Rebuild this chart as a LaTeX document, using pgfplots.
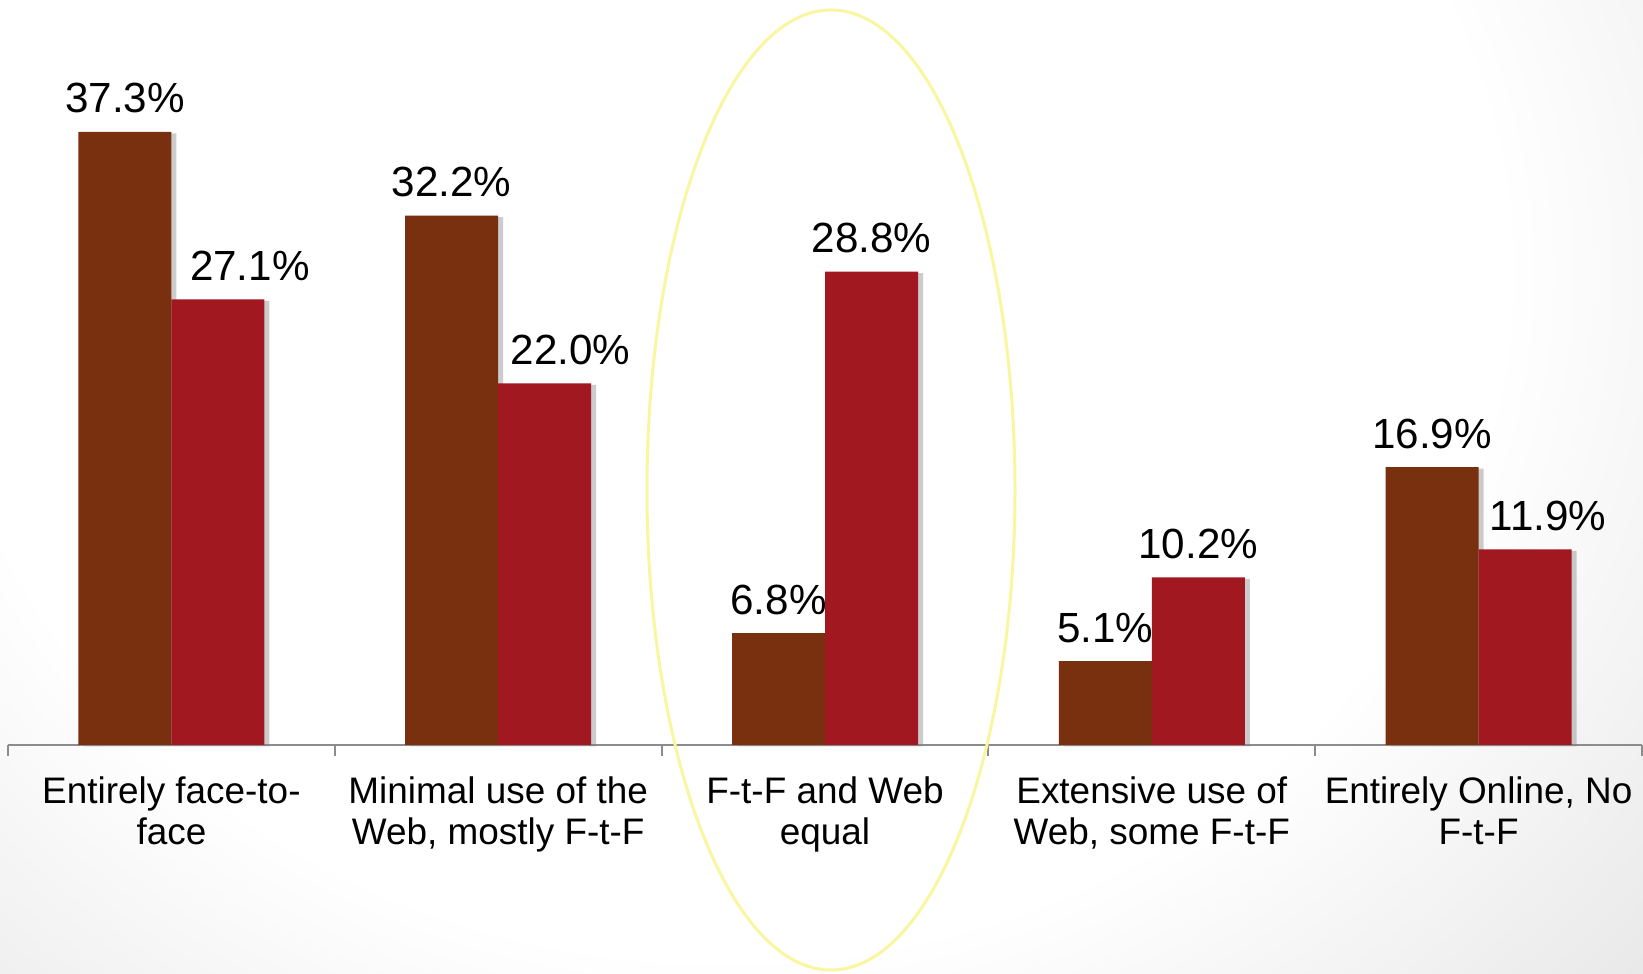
\documentclass[border=0pt]{standalone}
\usepackage{fontspec}
\setmainfont{Liberation Sans}
\usepackage{pgfplots}
\usepackage{pgfplotstable}
\pgfplotsset{compat=1.18}
\usetikzlibrary{shadows}

\definecolor{barbrown}{RGB}{120,48,14}
\definecolor{barred}{RGB}{161,24,33}
\definecolor{ringyellow}{RGB}{250,246,160}
\definecolor{axisgray}{RGB}{140,140,140}

\pgfdeclareradialshading{bgglow}{\pgfpoint{0bp}{0bp}}{%
  color(0bp)=(white); color(19bp)=(white); color(30bp)=(black!9); color(50bp)=(black!10)}

% dx = horizontal nudge of the value label, in px (0.01cm)
\pgfplotstableread{
x y dx
0 37.3 0
1 32.2 0
2 6.8 0
3 5.1 0
4 16.9 0
}\firstgroup
\pgfplotstableread{
x y dx
0 27.1 32
1 22.0 26
2 28.8 0
3 10.2 0
4 11.9 23
}\secondgroup

\begin{document}
\begin{tikzpicture}
\useasboundingbox (0,0) rectangle (16.43,9.73);
\begin{scope}
  \clip (0,0) rectangle (16.43,9.73);
  \shade[shading=bgglow] (-3,-2) rectangle (17.5,16);
\end{scope}
\begin{axis}[
    at={(0.08cm,2.28cm)}, anchor=south west,
    scale only axis,
    width=16.34cm, height=6.576cm,
    xmin=-0.5, xmax=4.5, ymin=0, ymax=40,
    ybar=0pt, bar width=0.93cm,
    axis y line=none, axis x line*=bottom,
    x axis line style={axisgray, line width=0.6pt},
    xtick={0,...,4},
    xticklabels={{Entirely face-to-\\face},{Minimal use of the\\Web, mostly F-t-F},{F-t-F and Web\\equal},{Extensive use of\\Web, some F-t-F},{Entirely Online, No\\F-t-F}},
    major tick length=0pt,
    minor xtick={-0.5,0.5,...,4.5},
    minor tick length=0.11cm,
    tick align=outside,
    minor tick style={axisgray, line width=0.6pt},
    xticklabel style={align=center, font=\fontsize{10.5}{11.7}\selectfont, yshift=-0.19cm},
    /pgf/number format/assume math mode=true,
    nodes near coords={\pgfmathprintnumber[fixed,fixed zerofill,precision=1]{\pgfplotspointmeta}\%},
    every node near coord/.append style={font=\fontsize{12}{14}\selectfont, text=black, yshift=0.06cm, xshift={0.01cm*\dx}},
    clip=false,
]
\addplot[fill=barbrown, draw=none, drop shadow={shadow xshift=0.05cm, shadow yshift=-0.015cm, opacity=0.4},
    visualization depends on={\thisrow{dx} \as \dx}] table[x=x,y=y] {\firstgroup};
\addplot[fill=barred, draw=none, drop shadow={shadow xshift=0.05cm, shadow yshift=-0.015cm, opacity=0.4},
    visualization depends on={\thisrow{dx} \as \dx}] table[x=x,y=y] {\secondgroup};
\end{axis}
\draw[ringyellow, line width=0.85pt] (8.31,4.83) ellipse [x radius=1.84, y radius=4.80];
\end{tikzpicture}
\end{document}
